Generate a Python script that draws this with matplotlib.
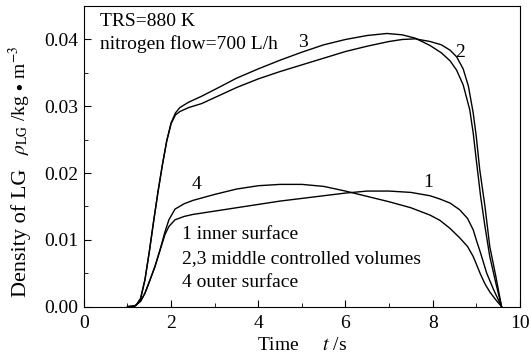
import matplotlib
matplotlib.use('Agg')
import matplotlib.pyplot as plt
from matplotlib.ticker import MultipleLocator, FormatStrFormatter

plt.rcParams['font.family'] = 'Liberation Serif'
plt.rcParams['mathtext.fontset'] = 'stix'

# curve 1 - inner surface
t1 = [1.0, 1.17, 1.3, 1.4, 1.5, 1.63, 1.75, 1.86, 1.95, 2.09, 2.3, 2.5, 3.0, 3.5, 4.0, 4.5, 5.0, 5.5, 6.0,
      6.5, 7.0, 7.5, 7.94, 8.17, 8.4, 8.62, 8.8, 8.93, 9.0, 9.1, 9.24, 9.4, 9.58]
y1 = [0.0, 0.0001, 0.0008, 0.0020, 0.0037, 0.0060, 0.0085, 0.0108, 0.0120, 0.0130, 0.0135, 0.0138, 0.0143,
      0.0148, 0.0153, 0.0158, 0.0162, 0.0166, 0.0170, 0.0173, 0.0173, 0.0171, 0.0166, 0.0161, 0.0155, 0.0145,
      0.0132, 0.0115, 0.0100, 0.0080, 0.0050, 0.0025, 0.0]

# curve 2 - middle controlled volume
t2 = [1.1, 1.2, 1.3, 1.4, 1.5, 1.6, 1.7, 1.8, 1.9, 2.0, 2.1, 2.2, 2.4, 2.7, 3.0, 3.5, 4.0, 4.5, 5.0, 5.5,
      6.0, 6.5, 7.0, 7.3, 7.6, 7.94, 8.2, 8.4, 8.55, 8.7, 8.82, 8.93, 9.0, 9.08, 9.2, 9.31, 9.45, 9.58]
y2 = [0.0, 0.0002, 0.0012, 0.0040, 0.0082, 0.0128, 0.0172, 0.0212, 0.0248, 0.0274, 0.0287, 0.0292, 0.0298,
      0.0304, 0.0313, 0.0328, 0.0341, 0.0352, 0.0362, 0.0372, 0.0382, 0.0390, 0.0397, 0.0400, 0.0401, 0.0397,
      0.0392, 0.0384, 0.0374, 0.0356, 0.0330, 0.0290, 0.0255, 0.0205, 0.0150, 0.0090, 0.0045, 0.0]

# curve 3 - middle controlled volume
t3 = [1.1, 1.2, 1.3, 1.4, 1.5, 1.6, 1.7, 1.8, 1.9, 2.0, 2.1, 2.2, 2.4, 2.7, 3.0, 3.5, 4.0, 4.5, 5.0, 5.5,
      6.0, 6.5, 6.95, 7.3, 7.6, 7.94, 8.2, 8.4, 8.55, 8.7, 8.85, 8.93, 9.0, 9.1, 9.2, 9.31, 9.45, 9.58]
y3 = [0.0, 0.0002, 0.0012, 0.0040, 0.0082, 0.0128, 0.0172, 0.0212, 0.0248, 0.0275, 0.0290, 0.0298, 0.0306,
      0.0315, 0.0325, 0.0342, 0.0356, 0.0369, 0.0381, 0.0392, 0.0400, 0.0406, 0.0409, 0.0407, 0.0402, 0.0391,
      0.0380, 0.0368, 0.0354, 0.0332, 0.0295, 0.0260, 0.0220, 0.0165, 0.0120, 0.0075, 0.0035, 0.0]

# curve 4 - outer surface
t4 = [1.0, 1.17, 1.3, 1.4, 1.5, 1.63, 1.75, 1.86, 1.95, 2.09, 2.3, 2.5, 3.0, 3.5, 4.0, 4.5, 5.0, 5.5, 6.0,
      6.5, 7.0, 7.5, 7.94, 8.17, 8.4, 8.62, 8.8, 8.93, 9.0, 9.1, 9.2, 9.31, 9.45, 9.58]
y4 = [0.0, 0.0001, 0.0008, 0.0020, 0.0037, 0.0060, 0.0086, 0.0112, 0.0130, 0.0146, 0.0154, 0.0159, 0.0168,
      0.0176, 0.0181, 0.0183, 0.0183, 0.0180, 0.0173, 0.0165, 0.0157, 0.0148, 0.0137, 0.0129, 0.0117, 0.0103,
      0.0090, 0.0075, 0.0064, 0.0048, 0.0034, 0.0022, 0.0010, 0.0]

curve_labels = ['1', '2', '3', '4']
label_t = [7.9, 8.62, 5.02, 2.58]
label_y = [0.0186, 0.0380, 0.0395, 0.0183]

legend_lines = ['1 inner surface', '2,3 middle controlled volumes', '4 outer surface']

fs = 14

fig = plt.figure(figsize=(5.31, 3.59), dpi=100)
ax = fig.add_axes([0.158, 0.146, 0.821, 0.837])

for t, y in [(t1, y1), (t2, y2), (t3, y3), (t4, y4)]:
    ax.plot(t, y, color='black', lw=1.0)

for s, x, y in zip(curve_labels, label_t, label_y):
    ax.text(x, y, s, fontsize=fs, ha='center', va='center')

ax.text(0.037, 0.978, 'TRS=880 K', transform=ax.transAxes, fontsize=fs, va='top')
ax.text(0.037, 0.905, 'nitrogen flow=700 L/h', transform=ax.transAxes, fontsize=fs, va='top')
for i, s in enumerate(legend_lines):
    ax.text(2.25, 0.0108 - i * 0.0036, s, fontsize=fs, va='center')

ax.set_xlim(0, 10)
ax.set_ylim(0, 0.045)
ax.xaxis.set_major_locator(MultipleLocator(2))
ax.xaxis.set_minor_locator(MultipleLocator(1))
ax.yaxis.set_major_locator(MultipleLocator(0.01))
ax.yaxis.set_minor_locator(MultipleLocator(0.005))
ax.yaxis.set_major_formatter(FormatStrFormatter('%.2f'))
ax.tick_params(which='both', direction='in', top=False, right=False, labelsize=fs)
ax.tick_params(which='major', length=5)
ax.tick_params(which='minor', length=3)
ax.tick_params(axis='x', pad=6)
ax.tick_params(axis='y', pad=4)

ax.set_xlabel(r'Time     $t$ /s', fontsize=fs, labelpad=4)

# y label in two pieces (the word part is set a bit larger than the symbol part)
fig.text(0.049, 0.173, 'Density of LG', fontsize=16, rotation=90,
         rotation_mode='anchor', ha='left', va='baseline')
fig.text(0.049, 0.568, r'$\rho_{\mathrm{LG}}$ /kg$\,\bullet\,$m$^{-3}$', fontsize=fs, rotation=90,
         rotation_mode='anchor', ha='left', va='baseline')

fig.savefig('out.png', dpi=100)
